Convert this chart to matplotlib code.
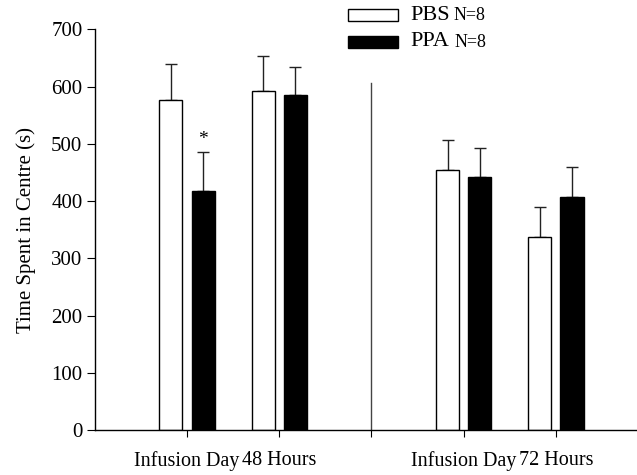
import numpy as np
import matplotlib.pyplot as plt
from matplotlib.patches import Rectangle

plt.rcParams['font.family'] = ['Liberation Serif', 'DejaVu Serif']

# --- data ---
positions = [1, 2, 4, 5]
tick_labels = ['Infusion Day', '48 Hours', '', 'Infusion Day', '72 Hours']
pbs_mean = [577, 592, 454, 338]
pbs_err = [63, 62, 53, 52]
ppa_mean = [418, 585, 442, 407]
ppa_err = [68, 49, 51, 53]

fig = plt.figure(figsize=(6.37, 4.75), dpi=100)
ax = fig.add_axes([0.149, 0.0947, 0.851, 0.8436])

x = np.array(positions, dtype=float)
w = 0.25
off = 0.175

ax.bar(x - off, pbs_mean, w, color='white', edgecolor='black', linewidth=1, zorder=2)
ax.bar(x + off, ppa_mean, w, color='black', edgecolor='black', linewidth=1, zorder=2)

# upper error bars only
ax.errorbar(x - off, pbs_mean, yerr=[np.zeros(4), pbs_err], fmt='none',
            ecolor='#222222', elinewidth=1, capsize=4, capthick=1, zorder=1)
ax.errorbar(x + off, ppa_mean, yerr=[np.zeros(4), ppa_err], fmt='none',
            ecolor='#222222', elinewidth=1, capsize=4, capthick=1, zorder=1)

# significance marker
ax.text(x[0] + off, ppa_mean[0] + ppa_err[0] + 6, '*', ha='center', va='bottom', fontsize=14)

# separator between the two experiments
ax.plot([3, 3], [0, 606], color='#444444', linewidth=1)

ax.set_xlim(0, 5.88)
ax.set_ylim(0, 700)
ax.set_xticks([1, 2, 3, 4, 5])
ax.set_xticklabels(tick_labels, fontsize=14.5)
ax.set_yticks(np.arange(0, 701, 100))
ax.tick_params(axis='y', labelsize=15, length=6, direction='out', pad=3)
ax.tick_params(axis='x', length=5, direction='out', pad=10)
ax.set_ylabel('Time Spent in Centre (s)', fontsize=15, labelpad=11)

for s in ['top', 'right']:
    ax.spines[s].set_visible(False)
ax.spines['left'].set_linewidth(1)
ax.spines['bottom'].set_linewidth(1)

# legend drawn by hand so the "N=8" part can be smaller
W, H = 637.0, 475.0
fig.add_artist(Rectangle((348 / W, 1 - 21 / H), 50 / W, 12 / H, transform=fig.transFigure,
                         facecolor='white', edgecolor='black', linewidth=1))
fig.add_artist(Rectangle((348 / W, 1 - 48 / H), 50 / W, 12 / H, transform=fig.transFigure,
                         facecolor='black', edgecolor='black', linewidth=1))
fig.text(410 / W, 1 - 15 / H, 'PBS', fontsize=16, va='center', ha='left')
fig.text(454 / W, 1 - 15.5 / H, 'N=8', fontsize=13, va='center', ha='left')
fig.text(410 / W, 1 - 42 / H, 'PPA', fontsize=16, va='center', ha='left')
fig.text(455 / W, 1 - 42.5 / H, 'N=8', fontsize=13, va='center', ha='left')

fig.savefig('out.png', dpi=100)
